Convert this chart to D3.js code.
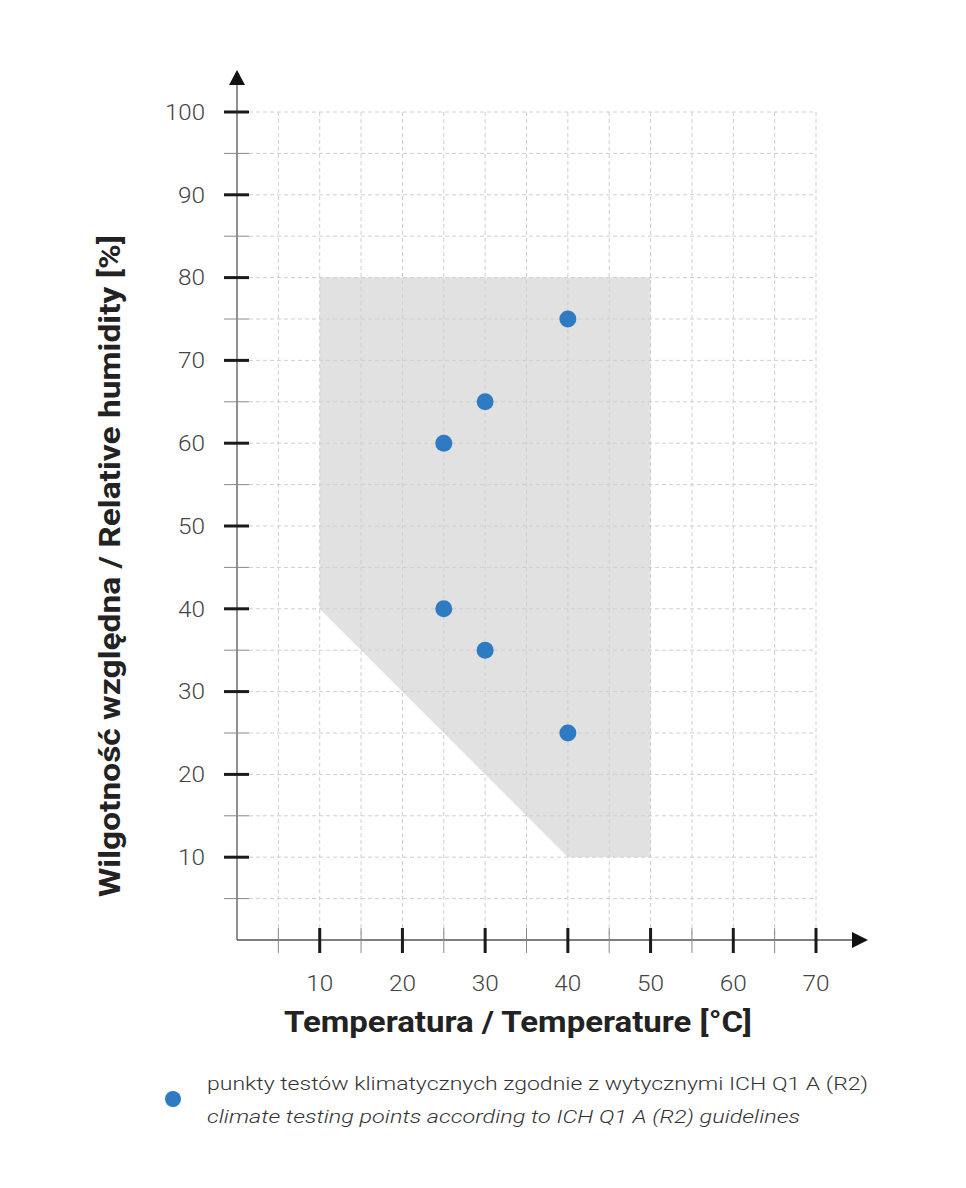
<!DOCTYPE html>
<html>
<head>
<meta charset="utf-8">
<script src="https://cdn.jsdelivr.net/npm/d3@7"></script>
<style>
  body { margin: 0; background: #fff; }
  svg text { font-family: Roboto, "Noto Sans", sans-serif; }
</style>
</head>
<body>
<div id="chart"></div>
<script>
// data
const xTicks = [10, 20, 30, 40, 50, 60, 70];
const yTicks = [10, 20, 30, 40, 50, 60, 70, 80, 90, 100];
const zoneTemp = [10, 50, 50, 40, 10];
const zoneHum = [80, 80, 10, 10, 40];
const testTemp = [25, 30, 40, 25, 30, 40];
const testHum = [60, 65, 75, 40, 35, 25];
const legendLines = [
  "punkty testów klimatycznych zgodnie  z wytycznymi ICH Q1 A (R2)",
  "climate testing points according to ICH Q1 A (R2) guidelines"
];

const W = 966, H = 1188;
const x0 = 237, y0 = 940;

const svg = d3.select('#chart').append('svg')
  .attr('width', W)
  .attr('height', H);

const x = d3.scaleLinear().domain([0, 70]).range([x0, 816]);
const y = d3.scaleLinear().domain([0, 100]).range([y0, 112]);

const gridX = d3.range(5, 71, 5);
const gridY = d3.range(5, 101, 5);

// shaded zone
svg.append('polygon')
  .attr('points', zoneTemp.map((t, i) => `${x(t)},${y(zoneHum[i])}`).join(' '))
  .attr('fill', '#e1e1e1');

// dashed grid
svg.append('g').selectAll('line')
  .data(gridX)
  .join('line')
  .attr('x1', d => x(d)).attr('x2', d => x(d))
  .attr('y1', y(100)).attr('y2', y0)
  .attr('stroke', '#cfcfcf')
  .attr('stroke-width', 1)
  .attr('stroke-dasharray', '4,3');

svg.append('g').selectAll('line')
  .data(gridY)
  .join('line')
  .attr('x1', 249).attr('x2', x(70))
  .attr('y1', d => y(d)).attr('y2', d => y(d))
  .attr('stroke', '#cfcfcf')
  .attr('stroke-width', 1)
  .attr('stroke-dasharray', '4,3');

// axes lines
svg.append('line')
  .attr('x1', x0).attr('x2', 856)
  .attr('y1', y0).attr('y2', y0)
  .attr('stroke', '#555').attr('stroke-width', 1.3);
svg.append('line')
  .attr('x1', x0).attr('x2', x0)
  .attr('y1', y0).attr('y2', 84)
  .attr('stroke', '#555').attr('stroke-width', 1.3);

// arrows
svg.append('path')
  .attr('d', `M${x0 - 8},85 L${x0 + 8},85 L${x0},70 Z`)
  .attr('fill', '#111');
svg.append('path')
  .attr('d', `M852,${y0 - 8} L852,${y0 + 8} L868,${y0} Z`)
  .attr('fill', '#111');

// ticks on x axis
svg.append('g').selectAll('line')
  .data(gridX)
  .join('line')
  .attr('x1', d => x(d)).attr('x2', d => x(d))
  .attr('y1', y0 - 12).attr('y2', y0 + 13)
  .attr('stroke', d => d % 10 === 0 ? '#1a1a1a' : '#888')
  .attr('stroke-width', d => d % 10 === 0 ? 3 : 1);

// ticks on y axis
svg.append('g').selectAll('line')
  .data(gridY)
  .join('line')
  .attr('x1', 224).attr('x2', 249)
  .attr('y1', d => y(d)).attr('y2', d => y(d))
  .attr('stroke', d => d % 10 === 0 ? '#1a1a1a' : '#888')
  .attr('stroke-width', d => d % 10 === 0 ? 3 : 1);

// tick labels
svg.append('g').selectAll('text')
  .data(xTicks)
  .join('text')
  .attr('x', d => x(d))
  .attr('y', 991)
  .attr('text-anchor', 'middle')
  .attr('font-size', 22)
  .attr('font-weight', 300)
  .attr('fill', '#444')
  .attr('textLength', 27)
  .attr('lengthAdjust', 'spacingAndGlyphs')
  .text(d => d);

svg.append('g').selectAll('text')
  .data(yTicks)
  .join('text')
  .attr('x', 205)
  .attr('y', d => y(d))
  .attr('dy', '0.35em')
  .attr('text-anchor', 'end')
  .attr('font-size', 22)
  .attr('font-weight', 300)
  .attr('fill', '#444')
  .attr('textLength', d => d === 100 ? 40 : 27)
  .attr('lengthAdjust', 'spacingAndGlyphs')
  .text(d => d);

// axis titles
svg.append('text')
  .attr('x', 518)
  .attr('y', 1032)
  .attr('text-anchor', 'middle')
  .attr('font-size', 29)
  .attr('font-weight', 700)
  .attr('fill', '#222')
  .attr('textLength', 468)
  .attr('lengthAdjust', 'spacingAndGlyphs')
  .text('Temperatura / Temperature [°C]');

svg.append('text')
  .attr('transform', 'translate(120,566) rotate(-90)')
  .attr('text-anchor', 'middle')
  .attr('font-size', 29)
  .attr('font-weight', 700)
  .attr('fill', '#222')
  .attr('textLength', 662)
  .attr('lengthAdjust', 'spacingAndGlyphs')
  .text('Wilgotność względna / Relative humidity [%]');

// points
svg.append('g').selectAll('circle')
  .data(testTemp.map((t, i) => ({ t, h: testHum[i] })))
  .join('circle')
  .attr('cx', d => x(d.t))
  .attr('cy', d => y(d.h))
  .attr('r', 8.5)
  .attr('fill', '#2e7bc3');

// legend
svg.append('circle')
  .attr('cx', 173).attr('cy', 1099).attr('r', 8)
  .attr('fill', '#2e7bc3');

svg.append('g').selectAll('text')
  .data(legendLines)
  .join('text')
  .attr('x', 207)
  .attr('y', (d, i) => 1090 + i * 33)
  .attr('font-size', 19)
  .attr('font-weight', 300)
  .attr('font-style', (d, i) => i === 1 ? 'italic' : 'normal')
  .attr('fill', '#333')
  .attr('textLength', (d, i) => i === 0 ? 661 : 593)
  .attr('lengthAdjust', 'spacingAndGlyphs')
  .text(d => d);
</script>
</body>
</html>
